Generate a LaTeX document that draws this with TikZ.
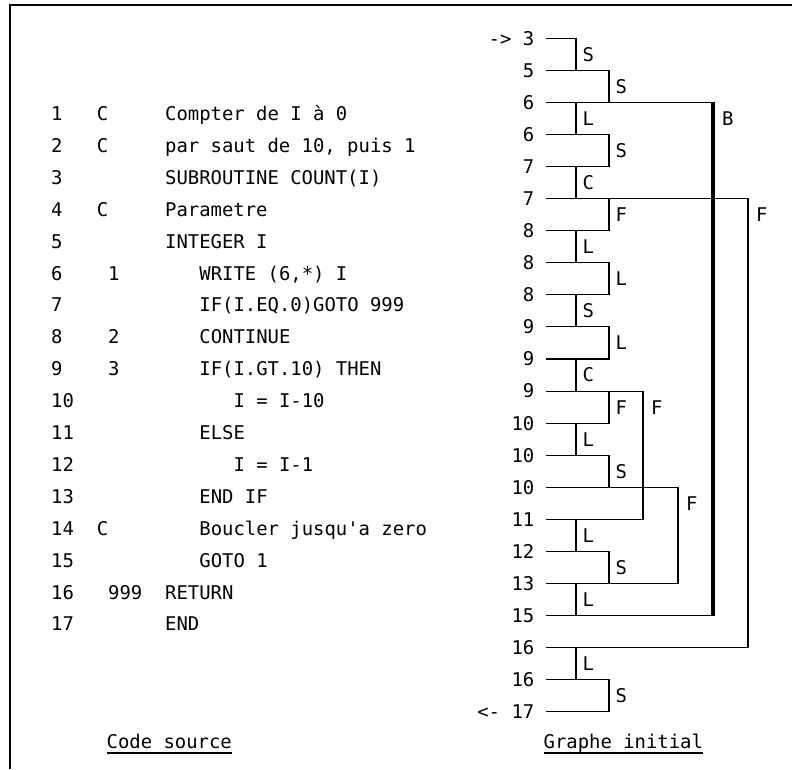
\documentclass[tikz,border=0pt]{standalone}
\usepackage{fontspec}
\setmonofont{DejaVu Sans Mono}
\usetikzlibrary{calc}
\begin{document}
\begin{tikzpicture}[x=1pt,y=-1pt,
  txt/.style={inner sep=0pt, font=\ttfamily\fontsize{18.9}{22}\selectfont},
  cw/.style={txt,anchor=base west},
  ce/.style={txt,anchor=base east},
  edge/.style={line width=1.05pt,line cap=rect},
  thickedge/.style={line width=3.2pt},
  lbl/.style={txt},
  frame/.style={line width=1.2pt}]
\useasboundingbox (0,0) rectangle (792,769);
\draw[frame] (10,769) -- (10,5) -- (792,5);
% ---------------- source code ----------------
\node[cw] (n1) at (51,120.5) {1};
\node[cw] (c1) at (96.6,120.5) {C};
\node[cw] (t1) at (165,120.5) {Compter de I à 0};
\node[cw] (n2) at (51,152.4) {2};
\node[cw] (c2) at (96.6,152.4) {C};
\node[cw] (t2) at (165,152.4) {par saut de 10, puis 1};
\node[cw] (n3) at (51,184.3) {3};
\node[cw] (t3) at (165,184.3) {SUBROUTINE COUNT(I)};
\node[cw] (n4) at (51,216.2) {4};
\node[cw] (c4) at (96.6,216.2) {C};
\node[cw] (t4) at (165,216.2) {Parametre};
\node[cw] (n5) at (51,248.1) {5};
\node[cw] (t5) at (165,248.1) {INTEGER I};
\node[cw] (n6) at (51,280.0) {6};
\node[cw] (l6) at (108,280.0) {1};
\node[cw] (t6) at (199.2,280.0) {WRITE (6,*) I};
\node[cw] (n7) at (51,311.9) {7};
\node[cw] (t7) at (199.2,311.9) {IF(I.EQ.0)GOTO 999};
\node[cw] (n8) at (51,343.8) {8};
\node[cw] (l8) at (108,343.8) {2};
\node[cw] (t8) at (199.2,343.8) {CONTINUE};
\node[cw] (n9) at (51,375.7) {9};
\node[cw] (l9) at (108,375.7) {3};
\node[cw] (t9) at (199.2,375.7) {IF(I.GT.10) THEN};
\node[cw] (n10) at (51,407.6) {10};
\node[cw] (t10) at (233.4,407.6) {I = I-10};
\node[cw] (n11) at (51,439.5) {11};
\node[cw] (t11) at (199.2,439.5) {ELSE};
\node[cw] (n12) at (51,471.4) {12};
\node[cw] (t12) at (233.4,471.4) {I = I-1};
\node[cw] (n13) at (51,503.3) {13};
\node[cw] (t13) at (199.2,503.3) {END IF};
\node[cw] (n14) at (51,535.2) {14};
\node[cw] (c14) at (96.6,535.2) {C};
\node[cw] (t14) at (199.2,535.2) {Boucler jusqu'a zero};
\node[cw] (n15) at (51,567.1) {15};
\node[cw] (t15) at (199.2,567.1) {GOTO 1};
\node[cw] (n16) at (51,599.0) {16};
\node[cw] (l16) at (108,599.0) {999};
\node[cw] (t16) at (165,599.0) {RETURN};
\node[cw] (n17) at (51,630.9) {17};
\node[cw] (t17) at (165,630.9) {END};
\node[cw] (cap1) at (106.5,748) {Code source};
\draw[edge,line cap=butt] ($(cap1.base west)+(0,5)$) -- ($(cap1.base east)+(0,5)$);
% ---------------- graph ----------------
\coordinate (vL) at (576,0);
\coordinate (vR) at (609,0);
\coordinate (vF1) at (643,0);
\coordinate (vF2) at (678,0);
\coordinate (vB) at (713,0);
\coordinate (vF3) at (748,0);
\foreach \lab/\e [count=\k from 0] in {3/576,5/609,6/713,6/609,7/609,7/748,8/609,8/609,8/609,9/609,9/609,9/643,10/609,10/609,10/678,11/643,12/609,13/678,15/713,16/748,16/609,17/609}{
  \coordinate (a\k) at (547,38.3+32.07*\k);
  \coordinate (e\k) at (\e,38.3+32.07*\k);
  \node[ce] (k\k) at (534.5,45.2+32.07*\k) {\lab};
  \draw[edge] (a\k) -- (e\k);
}
\node[ce] (entry) at ($(k0.base east)+(-22.8,0)$) {->};
\node[ce] (exit) at ($(k21.base east)+(-34.2,0)$) {<-};
\foreach \i/\s/\l in {0/L/S,1/R/S,2/L/L,3/R/S,4/L/C,5/R/F,6/L/L,7/R/L,8/L/S,9/R/L,10/L/C,11/R/F,12/L/L,13/R/S,15/L/L,16/R/S,17/L/L,19/L/L,20/R/S}{
  \pgfmathtruncatemacro\j{\i+1}
  \draw[edge] (a\i -| v\s) -- node[lbl,right=6pt] (m\i) {\l} (a\j -| v\s);
}
\draw[thickedge] (a2 -| vB) -- (a18 -| vB);
\path (a2 -| vB) -- node[lbl,right=9pt] (mB) {B} (a3 -| vB);
\draw[edge] (a5 -| vF3) -- (a19 -| vF3);
\path (a5 -| vF3) -- node[lbl,right=8pt] (mF3) {F} (a6 -| vF3);
\draw[edge] (a11 -| vF1) -- (a15 -| vF1);
\path (a11 -| vF1) -- node[lbl,right=8pt] (mF1) {F} (a12 -| vF1);
\draw[edge] (a14 -| vF2) -- (a17 -| vF2);
\path (a14 -| vF2) -- node[lbl,right=8pt] (mF2) {F} (a15 -| vF2);
\node[cw] (cap2) at (543.5,748) {Graphe initial};
\draw[edge,line cap=butt] ($(cap2.base west)+(0,5)$) -- ($(cap2.base east)+(0,5)$);
\end{tikzpicture}
\end{document}
